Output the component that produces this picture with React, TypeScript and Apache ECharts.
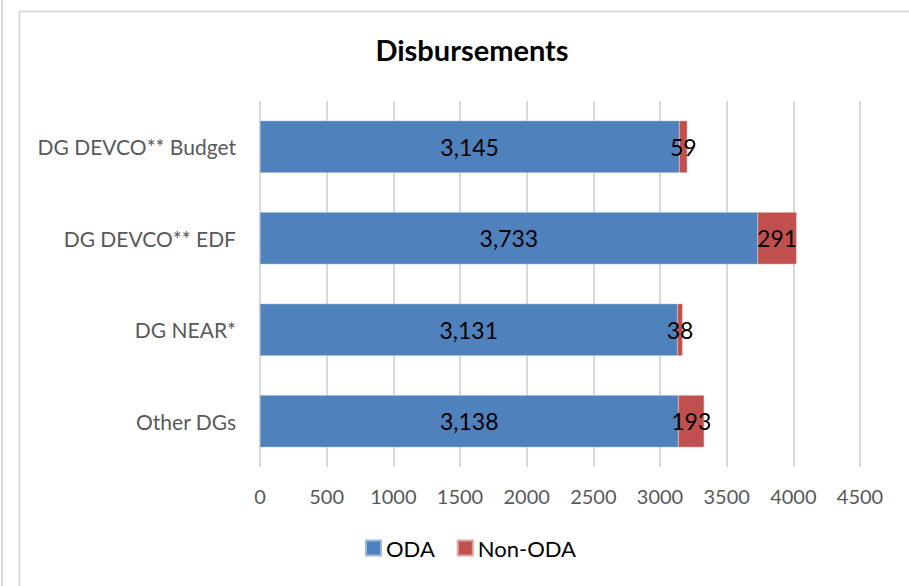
import React, { useEffect, useRef } from "react";
import * as echarts from "echarts";

const categories = ["DG DEVCO** Budget", "DG DEVCO** EDF", "DG NEAR*", "Other DGs"];
const odaValues = [3145, 3733, 3131, 3138];
const nonOdaValues = [59, 291, 38, 193];
const xTicks = { min: 0, max: 4500, interval: 500 };

const FONT = "Lato, 'Open Sans', sans-serif";

export default function App() {
  const ref = useRef<HTMLDivElement>(null);
  useEffect(() => {
    if (!ref.current) return;
    const chart = echarts.init(ref.current, null, { renderer: "svg" });
    chart.setOption({
      animation: false,
      backgroundColor: "#ffffff",
      textStyle: { fontFamily: FONT },
      title: {
        text: "Disbursements",
        left: 467,
        top: 30,
        textAlign: "center",
        textStyle: { fontFamily: FONT, fontWeight: "bold", fontSize: 29, color: "#000000" },
      },
      graphic: [
        { type: "rect", left: 17, top: 9, shape: { width: 1000, height: 700 }, style: { fill: "none", stroke: "#d9d9d9", lineWidth: 2 }, silent: true },
        { type: "line", shape: { x1: 2, y1: 0, x2: 2, y2: 586 }, style: { stroke: "#d9d9d9", lineWidth: 2 }, silent: true },
      ],
      legend: {
        bottom: 22,
        left: 360,
        itemWidth: 15,
        itemHeight: 15,
        itemGap: 22,
        icon: "rect",
        textStyle: { fontFamily: FONT, fontSize: 22, color: "#000000" },
        data: ["ODA", "Non-ODA"],
      },
      grid: { left: 260, right: 49, top: 101, bottom: 119, containLabel: false },
      xAxis: {
        type: "value",
        min: xTicks.min,
        max: xTicks.max,
        interval: xTicks.interval,
        axisLine: { show: false },
        axisTick: { show: false },
        axisLabel: { fontFamily: FONT, fontSize: 20, color: "#595959", margin: 19, formatter: (v: number) => String(v) },
        splitLine: { show: true, lineStyle: { color: "#d9d9d9", width: 2 } },
      },
      yAxis: {
        type: "category",
        inverse: true,
        data: categories,
        axisLine: { show: false },
        axisTick: { show: false },
        axisLabel: { fontFamily: FONT, fontSize: 21, color: "#595959", margin: 24 },
      },
      series: [
        {
          name: "ODA",
          type: "bar",
          stack: "total",
          barWidth: 52,
          data: odaValues,
          itemStyle: { color: "#4f81bd", borderColor: "#9db8dc", borderWidth: 0.5 },
          label: {
            show: true,
            position: "inside",
            fontFamily: FONT,
            fontSize: 23,
            color: "#000000",
            formatter: (p: any) => Number(p.value).toLocaleString("en-US"),
          },
        },
        {
          name: "Non-ODA",
          type: "bar",
          stack: "total",
          barWidth: 52,
          data: nonOdaValues,
          itemStyle: { color: "#c0504d", borderColor: "#e0a3a1", borderWidth: 0.5 },
          label: {
            show: true,
            position: "inside",
            fontFamily: FONT,
            fontSize: 23,
            color: "#000000",
            formatter: (p: any) => Number(p.value).toLocaleString("en-US"),
          },
        },
      ],
    });
    return () => chart.dispose();
  }, []);
  return (
    <div
      ref={ref}
      style={{ position: "fixed", left: 0, top: 0, width: 909, height: 586 }}
    />
  );
}
